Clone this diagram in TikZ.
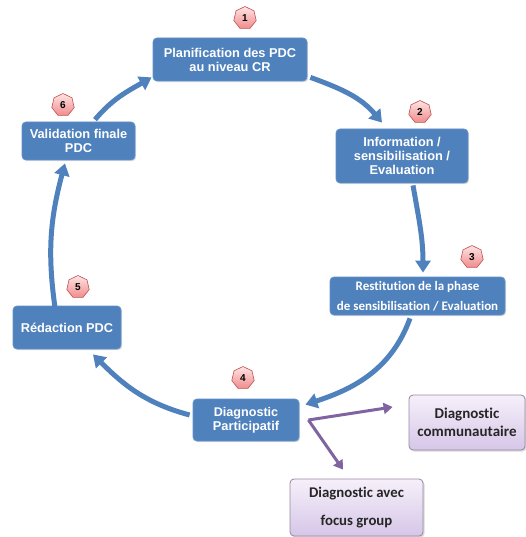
\documentclass[tikz,border=0pt]{standalone}
\usepackage{fontspec}
\setmainfont{Liberation Sans}
\newfontfamily\carlito[Ligatures=NoCommon]{Carlito}
\usetikzlibrary{arrows.meta,shapes.geometric,shadows}

\definecolor{stepblue}{RGB}{79,129,189}
\definecolor{stepedge}{RGB}{98,145,200}
\definecolor{flowpurple}{RGB}{128,100,162}
\definecolor{subtop}{RGB}{246,240,250}
\definecolor{subbottom}{RGB}{214,198,232}
\definecolor{subedge}{RGB}{150,135,165}
\definecolor{badgetop}{RGB}{255,228,228}
\definecolor{badgebottom}{RGB}{240,140,140}
\definecolor{badgeedge}{RGB}{190,80,80}

\tikzset{
  bluebox/.style={draw=stepedge, line width=0.8pt, fill=stepblue,
    rounded corners=4pt, text=white, align=center, inner sep=0pt,
    font=\bfseries\fontsize{12.8}{14}\selectfont,
    drop shadow={shadow xshift=1.2pt, shadow yshift=-1.2pt, opacity=0.25}},
  subbox/.style={draw=subedge, line width=0.8pt, top color=subtop,
    bottom color=subbottom, rounded corners=4pt, text=black!85,
    align=center, inner sep=0pt,
    drop shadow={shadow xshift=1.5pt, shadow yshift=-1.5pt, opacity=0.3}},
  badge/.style={regular polygon, regular polygon sides=7, draw=badgeedge,
    line width=0.6pt, top color=badgetop, bottom color=badgebottom,
    minimum size=23pt, inner sep=0pt, font=\bfseries\fontsize{10}{10}\selectfont},
  flow/.style={draw=stepblue, line width=5pt,
    -{Triangle[width=15pt,length=12pt]}},
  branch/.style={draw=flowpurple, line width=3pt,
    -{Triangle[width=11pt,length=9pt]}}
}

\begin{document}
\begin{tikzpicture}[x=1pt,y=1pt]
  \useasboundingbox (0,0) rectangle (526,-537);

  % cycle steps
  \node[bluebox, minimum width=154pt, minimum height=43pt] (b1) at (230,-59.5)
    {\fontsize{12.8}{19}\selectfont Planification des PDC\\au niveau CR};
  \node[bluebox, minimum width=132pt, minimum height=54pt] (b2) at (402,-156)
    {Information /\\sensibilisation /\\Evaluation};
  \node[bluebox, minimum width=175pt, minimum height=38pt,
        font=\carlito\bfseries\fontsize{13}{20}\selectfont] (b3) at (417.5,-296)
    {Restitution de la phase\\de sensibilisation / Evaluation};
  \node[bluebox, minimum width=106pt, minimum height=42pt] (b4) at (246,-420)
    {\fontsize{12.6}{13}\selectfont Diagnostic\\Participatif};
  \node[bluebox, minimum width=108pt, minimum height=43pt] (b5) at (67,-327.5)
    {Rédaction PDC};
  \node[bluebox, minimum width=113pt, minimum height=38pt] (b6) at (78.5,-141)
    {Validation finale\\PDC};

  % sub-steps of the diagnostic
  \node[subbox, minimum width=116pt, minimum height=55pt,
        font=\carlito\bfseries\fontsize{15}{18}\selectfont] (dc) at (467,-422.5)
    {Diagnostic\\communautaire};
  \node[subbox, minimum width=133pt, minimum height=57pt,
        font=\carlito\bfseries\fontsize{14.8}{28}\selectfont] (df) at (356.5,-507.5)
    {Diagnostic avec\\focus group};

  % step numbers
  \node[badge] (n1) at (245,-18) {1};
  \node[badge] (n2) at (420,-112) {2};
  \node[badge] (n3) at (472,-257) {3};
  \node[badge] (n4) at (243,-378) {4};
  \node[badge] (n5) at (78,-287) {5};
  \node[badge] (n6) at (63,-105) {6};

  % cycle arrows
  \draw[flow] ([shift={(3pt,4pt)}]b1.south east) to[out=-20,in=130]
              ([shift={(-20pt,6pt)}]b2.north);
  \draw[flow] ([shift={(11pt,-2pt)}]b2.south) to[out=-80,in=90]
              ([shift={(5.5pt,4pt)}]b3.north);
  \draw[flow] ([shift={(-7.5pt,-3pt)}]b3.south) to[out=-110,in=18]
              ([shift={(6pt,-6pt)}]b4.north east);
  \draw[flow] ([shift={(-3pt,5pt)}]b4.west) to[out=165,in=-45]
              ([shift={(26pt,-5pt)}]b5.south);
  \draw[flow] ([shift={(-12pt,-2pt)}]b5.north) to[out=98,in=-105]
              ([shift={(-13.5pt,-3pt)}]b6.south);
  \draw[flow] ([shift={(16.5pt,2pt)}]b6.north) to[out=50,in=-150]
              ([shift={(-1pt,4pt)}]b1.south west);

  % branches to the sub-steps
  \coordinate (split) at ([xshift=9pt]b4.east);
  \draw[branch] (split) -- ([shift={(-16pt,15.5pt)}]dc.west);
  \draw[branch] (split) -- ([shift={(-13.5pt,9pt)}]df.north);
\end{tikzpicture}
\end{document}
